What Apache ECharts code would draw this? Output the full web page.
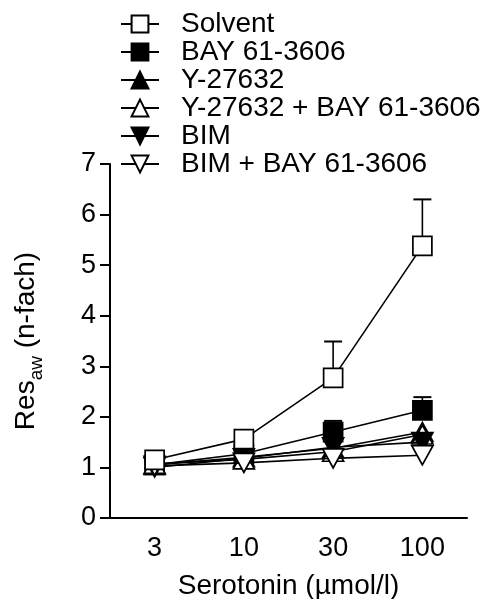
<!DOCTYPE html>
<html>
<head>
<meta charset="utf-8">
<script src="https://cdn.jsdelivr.net/npm/echarts@6/dist/echarts.min.js"></script>
<style>
  html, body { margin: 0; padding: 0; background: #fff; }
  #chart { width: 497px; height: 599px; }
</style>
</head>
<body>
<div id="chart"></div>
<script>
// ---- data ----
const doses = ["3", "10", "30", "100"];

const solvent   = [1.15, 1.56, 2.77, 5.38];
const solventErr = [0.05, 0.08, 0.72, 0.92];
const bay       = [1.05, 1.27, 1.70, 2.13];
const bayErr    = [0.03, 0.05, 0.22, 0.26];
const y27632    = [1.05, 1.20, 1.38, 1.70];
const y27632Bay = [1.07, 1.16, 1.31, 1.65];
const bim       = [1.00, 1.18, 1.40, 1.50];
const bimBay    = [1.03, 1.09, 1.18, 1.24];

const FONT = "Liberation Sans";

// eine Linie mit Symbolen
function lineSeries(name, values, symbol, filled, rotate, size, z) {
  return {
    name: name,
    type: "line",
    data: values,
    symbol: symbol,
    symbolSize: size,
    symbolRotate: rotate || 0,
    z: z,
    showSymbol: true,
    lineStyle: { color: "#000", width: 1.6 },
    itemStyle: {
      color: filled ? "#000" : "#fff",
      borderColor: "#000",
      borderWidth: 1.7,
      opacity: 1,
    },
    emphasis: { disabled: true },
    animation: false,
  };
}

// Fehlerbalken nur nach oben
function errSeries(values, errs) {
  return {
    type: "custom",
    z: 1,
    silent: true,
    animation: false,
    data: values.map((v, i) => [i, v, errs[i]]),
    renderItem: function (params, api) {
      const x = api.value(0);
      const v = api.value(1);
      const e = api.value(2);
      const p0 = api.coord([x, v]);
      const p1 = api.coord([x, v + e]);
      const half = 9;
      return {
        type: "group",
        children: [
          { type: "line", shape: { x1: p0[0], y1: p0[1], x2: p1[0], y2: p1[1] },
            style: { stroke: "#000", lineWidth: 1.6 } },
          { type: "line", shape: { x1: p1[0] - half, y1: p1[1], x2: p1[0] + half, y2: p1[1] },
            style: { stroke: "#000", lineWidth: 2 } },
        ],
      };
    },
  };
}

const chart = echarts.init(document.getElementById("chart"));

chart.setOption({
  backgroundColor: "#fff",
  animation: false,
  textStyle: { fontFamily: FONT, color: "#000" },
  grid: { left: 110, right: 30, top: 164, bottom: 81, containLabel: false, outerBoundsMode: "none" },
  legend: {
    orient: "vertical",
    left: 120,
    top: 10,
    padding: 0,
    itemGap: 0,
    itemWidth: 38,
    itemHeight: 21,
    selectedMode: false,
    data: ["Solvent", "BAY 61-3606", "Y-27632", "Y-27632 + BAY 61-3606", "BIM", "BIM + BAY 61-3606"],
    textStyle: {
      fontFamily: FONT,
      fontSize: 28,
      color: "#000",
      lineHeight: 28,
      padding: [0, 0, 0, 17],
    },
  },
  xAxis: {
    type: "category",
    data: doses,
    boundaryGap: true,
    name: "Serotonin (µmol/l)",
    nameLocation: "middle",
    nameGap: 54,
    nameTextStyle: { fontFamily: FONT, fontSize: 28, color: "#000" },
    axisLine: { lineStyle: { color: "#000", width: 2 } },
    axisTick: { alignWithLabel: true, length: 9, lineStyle: { color: "#000", width: 2 } },
    axisLabel: { fontFamily: FONT, fontSize: 27, color: "#000", margin: 17 },
    splitLine: { show: false },
  },
  yAxis: {
    type: "value",
    min: 0,
    max: 7,
    interval: 1,
    name: "{a|Res}{s|aw}{a| (n-fach)}",
    nameLocation: "middle",
    nameRotate: 90,
    nameGap: 64,
    nameTextStyle: {
      rich: {
        a: { fontFamily: FONT, fontSize: 28, color: "#000", lineHeight: 40, verticalAlign: "middle" },
        s: { fontFamily: FONT, fontSize: 19, color: "#000", lineHeight: 20, verticalAlign: "bottom" },
      },
    },
    axisLine: { show: true, lineStyle: { color: "#000", width: 2 } },
    axisTick: { show: true, length: 10, lineStyle: { color: "#000", width: 2 } },
    axisLabel: { fontFamily: FONT, fontSize: 27, color: "#000", margin: 14 },
    splitLine: { show: false },
  },
  series: [
    errSeries(solvent, solventErr),
    errSeries(bay, bayErr),
    lineSeries("BAY 61-3606", bay, "rect", true, 0, 19, 3),
    lineSeries("Y-27632", y27632, "triangle", true, 0, [21, 19], 4),
    lineSeries("Y-27632 + BAY 61-3606", y27632Bay, "triangle", false, 0, [21, 19], 5),
    lineSeries("BIM", bim, "triangle", true, 180, [21, 19], 6),
    lineSeries("BIM + BAY 61-3606", bimBay, "triangle", false, 180, [21, 19], 7),
    lineSeries("Solvent", solvent, "rect", false, 0, 19, 8),
  ],
});
</script>
</body>
</html>
